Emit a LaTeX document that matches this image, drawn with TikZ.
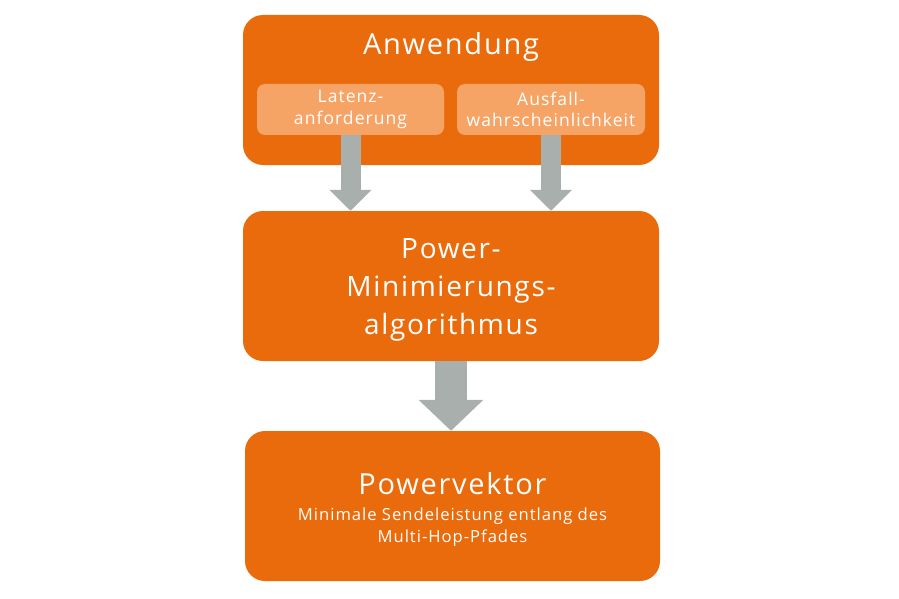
\documentclass[tikz,border=0pt]{standalone}
\usepackage{fontspec}
\setmainfont{Open Sans}[LetterSpace=6]
\usetikzlibrary{arrows.meta}
\definecolor{orng}{HTML}{EA6B0C}
\definecolor{lightorng}{HTML}{F6A466}
\definecolor{arrowgray}{HTML}{A9AFAD}

\begin{document}
\begin{tikzpicture}[x=1pt, y=-1pt,
    bigbox/.style={fill=orng, rounded corners=20pt, minimum width=416pt, minimum height=150pt, inner sep=0pt},
    subbox/.style={fill=lightorng, rounded corners=8pt, minimum height=51pt, inner sep=0pt, text=white, align=center, font=\fontsize{17.5}{21.5}\selectfont},
    smallarrow/.style={draw=arrowgray, line width=20pt, -{Triangle[width=41pt, length=21pt]}},
    bigarrow/.style={draw=arrowgray, line width=32pt, -{Triangle[width=63pt, length=31pt]}},
    title/.style={text=white, anchor=base, inner sep=0pt, font=\fontsize{29}{34}\selectfont}]
    \useasboundingbox (0,0) rectangle (899,599);

    % Draw boxes
    \node[bigbox] (app) at (451,90) {};
    \node[subbox, minimum width=187pt] (lat) at (350.5,109.5) {Latenz-\\anforderung};
    \node[subbox, minimum width=188pt] (fail) at (551,109.5) {Ausfall-\\wahrscheinlichkeit};
    \node[bigbox] (algo) at (451,286) {};
    \node[bigbox, minimum width=415pt] (vec) at (452.5,506) {};

    % Texts
    \node[title] (apptitle) at (451,55) {Anwendung};
    \node[text=white, align=center, inner sep=0pt, anchor=base, font=\fontsize{28}{38}\selectfont] (algotitle) at (451,334) {Power-\\Minimierungs-\\algorithmus};
    \node[title] (vectitle) at (452.5,494) {Powervektor};
    \node[text=white, align=center, inner sep=0pt, anchor=base, font=\fontsize{16.6}{21.3}\selectfont] (vecnote) at (452.5,542) {Minimale Sendeleistung entlang des\\Multi-Hop-Pfades};

    % Draw arrows
    \draw[smallarrow] (lat.south) -- (lat.south |- algo.north);
    \draw[smallarrow] (fail.south) -- (fail.south |- algo.north);
    \draw[bigarrow] (algo.south) -- (vec.north -| algo.south);
\end{tikzpicture}
\end{document}
